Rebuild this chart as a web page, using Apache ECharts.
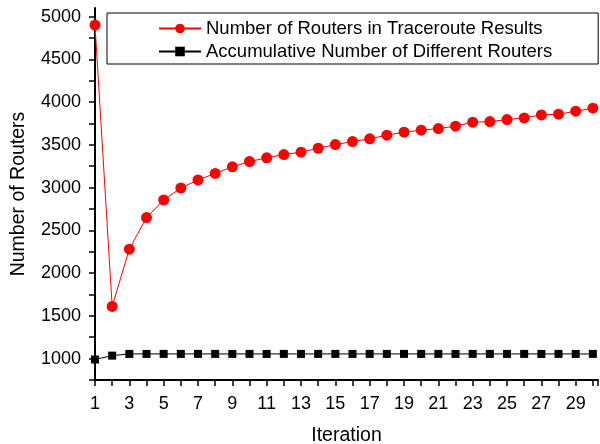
<!DOCTYPE html>
<html>
<head>
<meta charset="utf-8">
<script src="https://cdn.jsdelivr.net/npm/echarts@6/dist/echarts.min.js"></script>
<style>
  html, body { margin: 0; padding: 0; background: #fff; }
  #chart { width: 600px; height: 444px; }
</style>
</head>
<body>
<div id="chart"></div>
<script>
// iterations 1..30
var iterations = [1,2,3,4,5,6,7,8,9,10,11,12,13,14,15,16,17,18,19,20,21,22,23,24,25,26,27,28,29,30];
// routers seen in each round of traceroute
var routersPerRound = [4900,1610,2280,2650,2855,2995,3090,3165,3243,3305,3348,3386,3414,3460,3503,3538,3570,3613,3648,3671,3690,3718,3765,3772,3795,3815,3850,3858,3893,3928];
// running total of distinct routers
var distinctRouters = [990,1035,1055,1055,1055,1055,1055,1055,1055,1055,1055,1055,1055,1055,1055,1055,1055,1055,1055,1055,1055,1055,1055,1055,1055,1055,1055,1055,1055,1055];

var seriesNames = ['Number of Routers in Traceroute Results', 'Accumulative Number of Different Routers'];

function pairs(ys) {
    return iterations.map(function (x, i) { return [x, ys[i]]; });
}

var font = 'Liberation Sans, Arial, sans-serif';
var myChart = echarts.init(document.getElementById('chart'));
var option = {
    animation: false,
    textStyle: { fontFamily: font },
    grid: { left: 95, right: 2, top: 8, bottom: 64, outerBoundsMode: 'none', containLabel: false },
    legend: {
        orient: 'vertical',
        left: 107,
        top: 13,
        padding: [6, 46, 3, 51],
        itemGap: 4,
        itemWidth: 42,
        itemHeight: 12,
        borderColor: '#000',
        borderWidth: 1,
        textStyle: { fontSize: 18.5, color: '#000', fontFamily: font },
        data: seriesNames
    },
    xAxis: {
        type: 'value',
        min: 1,
        max: 30.3,
        interval: 1,
        name: 'Iteration',
        nameLocation: 'middle',
        nameGap: 46,
        nameTextStyle: { fontSize: 19.5, color: '#000' },
        axisLine: { lineStyle: { color: '#000', width: 2 } },
        axisTick: { length: 6, lineStyle: { color: '#000', width: 1.5 } },
        axisLabel: {
            fontSize: 18, color: '#000', margin: 15,
            formatter: function (v) { return v % 2 === 1 ? String(v) : ''; }
        },
        splitLine: { show: false }
    },
    yAxis: {
        type: 'value',
        min: 750,
        max: 5100,
        interval: 250,
        name: 'Number of Routers',
        nameLocation: 'middle',
        nameGap: 66,
        nameTextStyle: { fontSize: 19.5, color: '#000' },
        axisLine: { show: true, lineStyle: { color: '#000', width: 2 } },
        axisTick: { show: true, length: 6, lineStyle: { color: '#000', width: 1.5 } },
        axisLabel: {
            fontSize: 18, color: '#000', margin: 14,
            showMaxLabel: false,
            formatter: function (v) { return v % 500 === 0 ? String(v) : ''; }
        },
        splitLine: { show: false }
    },
    series: [
        {
            name: seriesNames[0],
            type: 'line',
            data: pairs(routersPerRound),
            symbol: 'circle',
            symbolSize: 11,
            itemStyle: { color: '#ff0000' },
            lineStyle: { color: '#ff0000', width: 1 }
        },
        {
            name: seriesNames[1],
            type: 'line',
            data: pairs(distinctRouters),
            symbol: 'rect',
            symbolSize: 8,
            itemStyle: { color: '#000' },
            lineStyle: { color: '#000', width: 1 }
        }
    ]
};
myChart.setOption(option);
</script>
</body>
</html>
